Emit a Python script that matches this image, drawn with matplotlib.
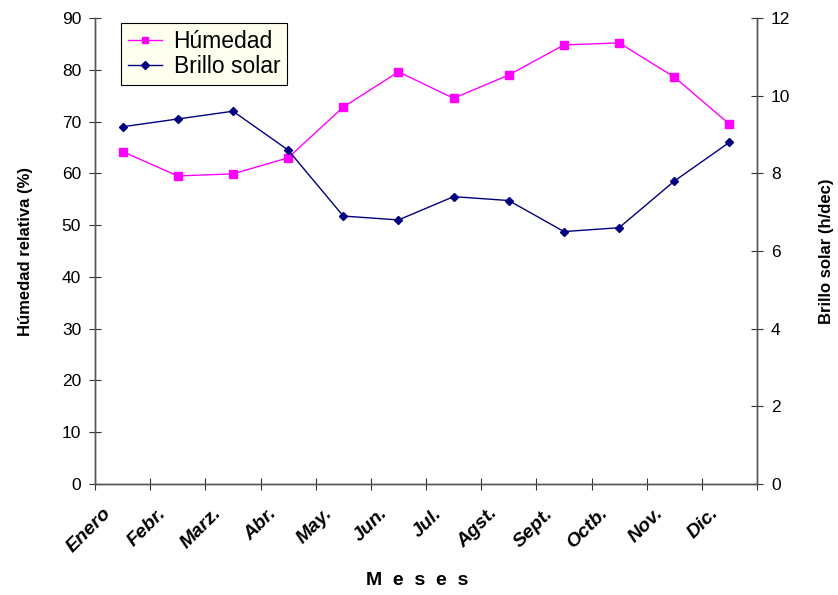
import matplotlib.pyplot as plt
import matplotlib.transforms as mtransforms
import numpy as np

plt.rcParams['font.family'] = ['Liberation Sans', 'DejaVu Sans']

# Monthly climate data
meses = ['Enero', 'Febr.', 'Marz.', 'Abr.', 'May.', 'Jun.', 'Jul.',
         'Agst.', 'Sept.', 'Octb.', 'Nov.', 'Dic.']
humedad = [64.2, 59.5, 59.9, 63.0, 72.8, 79.6, 74.5, 79.0, 84.8, 85.2, 78.6, 69.5]
brillo = [9.2, 9.4, 9.6, 8.6, 6.9, 6.8, 7.4, 7.3, 6.5, 6.6, 7.8, 8.8]

x = np.arange(len(meses)) + 0.5

fig = plt.figure(figsize=(8.38, 5.95), dpi=100)
ax = fig.add_axes([0.1134, 0.1866, 0.79, 0.7831])
ax2 = ax.twinx()

l1, = ax.plot(x, humedad, color='#FF00FF', lw=1.0, marker='s', ms=6,
              label='Húmedad')
l2, = ax2.plot(x, brillo, color='#000080', lw=1.0, marker='D', ms=4.5,
               label='Brillo solar')

ax.set_xlim(0, 12)
ax.set_ylim(0, 90)
ax2.set_ylim(0, 12)
ax.set_yticks(np.arange(0, 91, 10))
ax2.set_yticks(np.arange(0, 13, 2))
ax.set_xticks(np.arange(0, 13))
ax.set_xticklabels([])
ax.set_xticks(x, minor=True)
ax.set_xticklabels(meses, minor=True, rotation=45, ha='right', va='top',
                   fontsize=14, fontweight='bold', fontstyle='italic',
                   rotation_mode='anchor')
ax.tick_params(axis='x', which='minor', length=0, pad=15)
shift = mtransforms.ScaledTranslation(-0.2, 0, fig.dpi_scale_trans)
for lab in ax.get_xticklabels(minor=True):
    lab.set_transform(lab.get_transform() + shift)

for a in (ax, ax2):
    a.spines['top'].set_visible(False)
    for s in a.spines.values():
        s.set_color('#555555')
        s.set_linewidth(1.0)
ax.tick_params(axis='x', which='major', direction='inout', length=8, color='#333333')
ax.tick_params(axis='y', direction='inout', length=8, labelsize=12.5, color='#333333', pad=6)
ax2.tick_params(axis='y', direction='inout', length=8, labelsize=12.5, color='#333333', pad=6)

ax.set_ylabel('Húmedad relativa (%)', fontsize=12, fontweight='bold')
ax.yaxis.set_label_coords(-0.093, 0.5)
ax2.set_ylabel('Brillo solar (h/dec)', fontsize=12, fontweight='bold')
ax2.yaxis.set_label_coords(1.094, 0.5)

fig.text(0.498, 0.028, 'M  e  s  e  s', ha='center', va='center_baseline',
         fontsize=14, fontweight='bold')

leg = ax.legend(handles=[l1, l2], loc='upper left',
                bbox_to_anchor=(0.039, 0.989), fontsize=16.5, frameon=True,
                fancybox=False, edgecolor='black', facecolor='#FFFFF0',
                framealpha=1, borderpad=0.3, labelspacing=0.1,
                handlelength=1.5, handletextpad=0.5, borderaxespad=0,
                markerscale=0.8)
leg.get_frame().set_linewidth(0.8)

fig.savefig('out.png', dpi=100)
